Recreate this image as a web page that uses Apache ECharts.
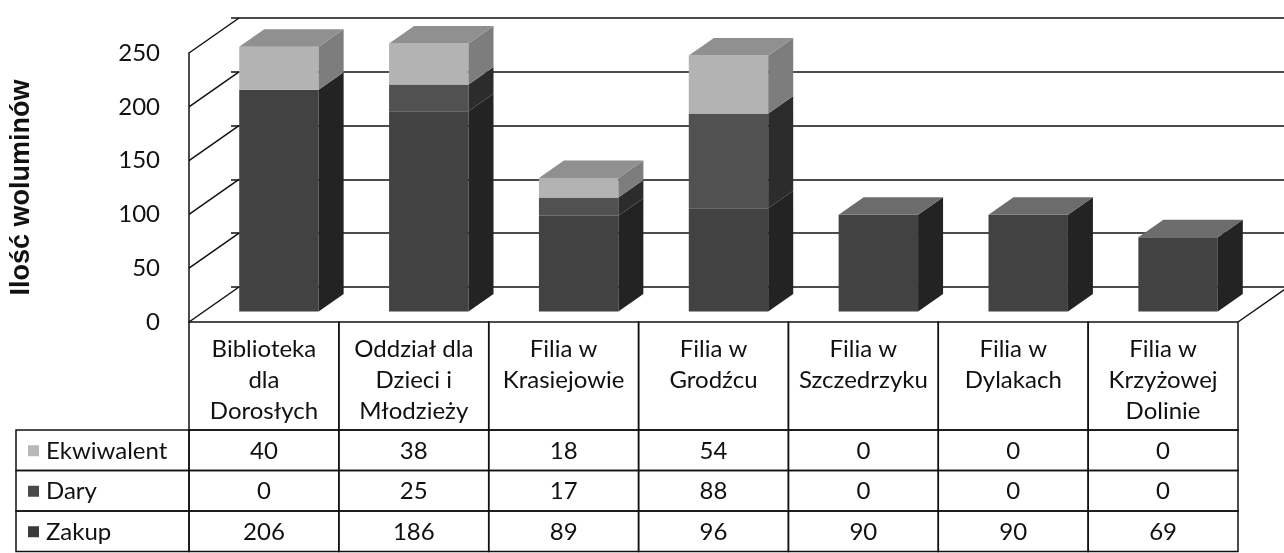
<!DOCTYPE html>
<html><head><meta charset="utf-8">
<script src="https://cdn.jsdelivr.net/npm/echarts@6/dist/echarts.min.js"></script>
<style>html,body{margin:0;padding:0;background:#fff}#c{width:1284px;height:553px}</style>
</head><body><div id="c"></div>
<script>
// ---- data ----
const categories = ['Biblioteka\ndla\nDorosłych', 'Oddział dla\nDzieci i\nMłodzieży', 'Filia w\nKrasiejowie', 'Filia w\nGrodźcu', 'Filia w\nSzczedrzyku', 'Filia w\nDylakach', 'Filia w\nKrzyżowej\nDolinie'];
const zakup = [206, 186, 89, 96, 90, 90, 69];
const dary = [0, 25, 17, 88, 0, 0, 0];
const ekwiwalent = [40, 38, 18, 54, 0, 0, 0];
const yTicks = [0, 50, 100, 150, 200, 250];
const yAxisTitle = 'Ilość woluminów';
const tableRowNames = ['Ekwiwalent', 'Dary', 'Zakup'];

// ---- layout / style ----
const DX = 50, DY = -35;           // full depth offset of the 3D walls
const BAR_D0 = 0.3, BAR_D1 = 0.8;  // bar front/back depth fraction
const BAR_W = 0.53;                // bar width as fraction of band
const HEAD_H = 108, ROW_H = 40.5;
const TABLE_LEFT = 16;
const FONT = 'Lato, "Noto Sans", sans-serif';
const FS = 24;
const styles = {
  Zakup: { front: '#424242', side: '#232323', top: '#6c6c6c', key: '#3a3a3a' },
  Dary: { front: '#515151', side: '#2c2c2c', top: '#727272', key: '#4a4a4a' },
  Ekwiwalent: { front: '#b3b3b3', side: '#7d7d7d', top: '#909090', key: '#b8b8b8' }
};

const order = [
  { name: 'Zakup', vals: zakup },
  { name: 'Dary', vals: dary },
  { name: 'Ekwiwalent', vals: ekwiwalent }
];
const rowVals = { Ekwiwalent: ekwiwalent, Dary: dary, Zakup: zakup };

function baseOf(k, i) { let s = 0; for (let j = 0; j < k; j++) s += order[j].vals[i]; return s; }
function isTopSeg(k, i) { for (let j = k + 1; j < order.length; j++) if (order[j].vals[i] > 0) return false; return true; }

function barSeries(k) {
  const o = order[k], st = styles[o.name];
  return {
    type: 'custom', name: o.name, coordinateSystem: 'cartesian2d', xAxisIndex: 0, yAxisIndex: 0, z: 3,
    data: o.vals.map((v, i) => [i, v]),
    renderItem(params, api) {
      const i = api.value(0), v = api.value(1);
      if (!v) return null;
      const b = baseOf(k, i);
      const band = api.size([1, 0])[0];
      const c = api.coord([i, 0])[0];
      const w = band * BAR_W;
      const ox = DX * BAR_D0, oy = DY * BAR_D0;
      const sx = DX * (BAR_D1 - BAR_D0), sy = DY * (BAR_D1 - BAR_D0);
      const yb = api.coord([i, b])[1] + oy, yt = api.coord([i, b + v])[1] + oy;
      const xl = c - w / 2 + ox, xr = c + w / 2 + ox;
      const ch = [
        { type: 'polygon', shape: { points: [[xl, yb], [xr, yb], [xr, yt], [xl, yt]] }, style: { fill: st.front } },
        { type: 'polygon', shape: { points: [[xr, yb], [xr + sx, yb + sy], [xr + sx, yt + sy], [xr, yt]] }, style: { fill: st.side } }
      ];
      if (isTopSeg(k, i)) ch.push({ type: 'polygon', shape: { points: [[xl, yt], [xr, yt], [xr + sx, yt + sy], [xl + sx, yt + sy]] }, style: { fill: st.top } });
      return { type: 'group', children: ch };
    }
  };
}

const option = {
  animation: false,
  backgroundColor: '#ffffff',
  grid: [
    { left: 181, right: 46, top: 53, bottom: 231 },
    { left: 181 + DX, right: 46 - DX, top: 53 + DY, bottom: 231 - DY }
  ],
  xAxis: [
    { type: 'category', gridIndex: 0, data: categories, axisLine: { show: false }, axisTick: { show: false }, axisLabel: { show: false } },
    { type: 'category', gridIndex: 1, data: categories, show: false }
  ],
  yAxis: [
    { type: 'value', gridIndex: 0, min: 0, max: 250, interval: 50,
      name: yAxisTitle, nameLocation: 'middle', nameRotate: 90, nameGap: 154,
      nameTextStyle: { fontFamily: '"Liberation Sans", Arial, sans-serif', fontWeight: 'bold', fontSize: 27, color: '#111' },
      axisLine: { show: true, lineStyle: { color: '#111', width: 1.5 } }, axisTick: { show: false },
      axisLabel: { margin: 29, fontFamily: FONT, fontSize: FS, color: '#111' },
      splitLine: { show: false } },
    { type: 'value', gridIndex: 1, min: 0, max: 250, interval: 50,
      axisLine: { show: false }, axisTick: { show: false }, axisLabel: { show: false },
      splitLine: { show: true, lineStyle: { color: '#111', width: 1.5 } } }
  ],
  series: [
    { // depth lines from front axis ticks to back wall, plus floor right edge
      type: 'custom', name: 'walls', coordinateSystem: 'cartesian2d', xAxisIndex: 0, yAxisIndex: 0, z: 1, silent: true,
      data: yTicks.map(v => [0, v]),
      renderItem(params, api) {
        const cs = params.coordSys;
        const v = api.value(1);
        const y = api.coord([0, v])[1];
        const ls = { stroke: '#111', lineWidth: 1.5 };
        const ch = [{ type: 'line', shape: { x1: cs.x, y1: y, x2: cs.x + DX, y2: y + DY }, style: ls }];
        if (v === 0) ch.push({ type: 'line', shape: { x1: cs.x + cs.width, y1: y, x2: cs.x + cs.width + DX, y2: y + DY }, style: ls });
        return { type: 'group', children: ch };
      }
    },
    barSeries(0), barSeries(1), barSeries(2),
    { // data table: category header + values
      type: 'custom', name: 'table', coordinateSystem: 'cartesian2d', xAxisIndex: 0, yAxisIndex: 0, z: 5, silent: true,
      data: categories.map((c, i) => [i, 0]),
      renderItem(params, api) {
        const i = api.value(0), cs = params.coordSys;
        const band = api.size([1, 0])[0];
        const cx = api.coord([i, 0])[0];
        const x0 = cx - band / 2, y0 = cs.y + cs.height;
        const ls = { fill: 'none', stroke: '#111', lineWidth: 1.5 };
        const ch = [
          { type: 'rect', shape: { x: x0, y: y0, width: band, height: HEAD_H }, style: ls },
          { type: 'text', style: { text: categories[i], x: cx, y: y0 + 12, align: 'center', verticalAlign: 'top', lineHeight: 31, fontSize: FS, fontFamily: FONT, fill: '#111' } }
        ];
        tableRowNames.forEach((nm, r) => {
          const ry = y0 + HEAD_H + r * ROW_H;
          ch.push({ type: 'rect', shape: { x: x0, y: ry, width: band, height: ROW_H }, style: ls });
          ch.push({ type: 'text', style: { text: String(rowVals[nm][i]), x: cx, y: ry + ROW_H / 2 + 1, align: 'center', verticalAlign: 'middle', fontSize: FS, fontFamily: FONT, fill: '#111' } });
        });
        return { type: 'group', children: ch };
      }
    },
    { // table legend column
      type: 'custom', name: 'tableLegend', coordinateSystem: 'cartesian2d', xAxisIndex: 0, yAxisIndex: 0, z: 5, silent: true,
      data: tableRowNames.map((n, r) => [0, r]),
      renderItem(params, api) {
        const r = params.dataIndex, cs = params.coordSys;
        const nm = tableRowNames[r];
        const y0 = cs.y + cs.height + HEAD_H + r * ROW_H;
        const ls = { fill: 'none', stroke: '#111', lineWidth: 1.5 };
        return { type: 'group', children: [
          { type: 'rect', shape: { x: TABLE_LEFT, y: y0, width: cs.x - TABLE_LEFT, height: ROW_H }, style: ls },
          { type: 'rect', shape: { x: 28, y: y0 + ROW_H / 2 - 5, width: 11, height: 11 }, style: { fill: styles[nm].key } },
          { type: 'text', style: { text: nm, x: 46, y: y0 + ROW_H / 2 + 1, align: 'left', verticalAlign: 'middle', fontSize: FS, fontFamily: FONT, fill: '#111' } }
        ] };
      }
    }
  ]
};

const chart = echarts.init(document.getElementById('c'), null, { renderer: 'canvas' });
chart.setOption(option);
</script>
</body></html>
